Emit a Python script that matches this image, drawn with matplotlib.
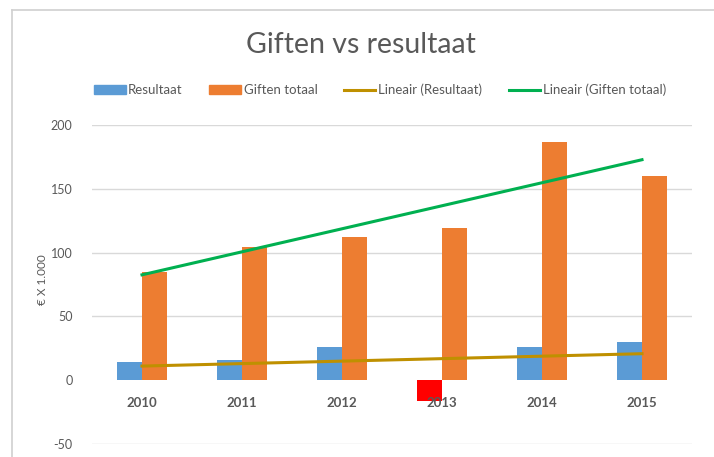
import matplotlib
matplotlib.use("Agg")
import matplotlib.pyplot as plt
import numpy as np
from matplotlib.patches import Patch
from matplotlib.lines import Line2D

years = ["2010", "2011", "2012", "2013", "2014", "2015"]
resultaat = [14, 15.7, 26, -16, 26, 29.8]
giften = [84.6, 104, 112, 119, 186.5, 160]
yticks = [-50, 0, 50, 100, 150, 200]

c_blue = "#5B9BD5"
c_orange = "#ED7D31"
c_red = "#FF0000"
c_gold = "#BF9000"
c_green = "#00B050"
c_text = "#595959"

plt.rcParams['font.family'] = ['Lato', 'DejaVu Sans']

fig = plt.figure(figsize=(7.14, 4.57), dpi=100)
W, H = 714, 457
ax = fig.add_axes([92 / W, 1 - 444 / H, 600 / W, (444 - 125) / H])

x = np.arange(len(years))
bw = 0.25
rcolors = [c_blue if v >= 0 else c_red for v in resultaat]
ax.bar(x - bw / 2, resultaat, width=bw, color=rcolors, zorder=2)
ax.bar(x + bw / 2, giften, width=bw, color=c_orange, zorder=2)

pr = np.polyfit(x, resultaat, 1)
pg = np.polyfit(x, giften, 1)
ax.plot(x, np.polyval(pr, x), color=c_gold, lw=2.2, zorder=3)
ax.plot(x, np.polyval(pg, x), color=c_green, lw=2.2, zorder=3)

ax.set_xlim(-0.5, 5.5)
ax.set_ylim(-50, 200)
ax.set_yticks(yticks)
ax.set_yticklabels([str(v) for v in yticks], fontsize=9, color=c_text)
for v in yticks:
    if v != 0:
        ax.axhline(v, color="#D9D9D9", lw=1, zorder=1)
for s in ax.spines.values():
    s.set_visible(False)
ax.tick_params(axis='y', length=0, pad=14)
ax.set_xticks([])
for i, yr in enumerate(years):
    ax.text(i, -18, yr, ha='center', va='center', fontsize=9.5,
            fontweight='bold', color=c_text, zorder=4)

fig.text(42 / W, 1 - 280 / H, "€ X 1.000", rotation=90, ha='center',
         va='center', fontsize=8.5, color=c_text)

fig.text(361 / W, 1 - 45 / H, "Giften vs resultaat", ha='center',
         va='center', fontsize=20.5, fontweight='normal', color=c_text)

handles = [Patch(color=c_blue), Patch(color=c_orange),
           Line2D([], [], color=c_gold, lw=2.2),
           Line2D([], [], color=c_green, lw=2.2)]
labels = ["Resultaat", "Giften totaal", "Lineair (Resultaat)",
          "Lineair (Giften totaal)"]
leg = fig.legend(handles, labels, loc='center', bbox_to_anchor=(380 / W, 1 - 90 / H),
                 ncol=4, frameon=False, fontsize=9.5, handlelength=2.4,
                 handleheight=0.6, handletextpad=0.2, columnspacing=2.0,
                 labelcolor=c_text)

# chart frame
fig.add_artist(plt.Line2D([12 / W, 12 / W], [0, 1 - 10 / H], color="#D0D0D0",
                          lw=1.2, transform=fig.transFigure))
fig.add_artist(plt.Line2D([12 / W, 1], [1 - 10 / H, 1 - 10 / H], color="#D0D0D0",
                          lw=1.2, transform=fig.transFigure))

fig.savefig("out.png", dpi=100, facecolor="white")
